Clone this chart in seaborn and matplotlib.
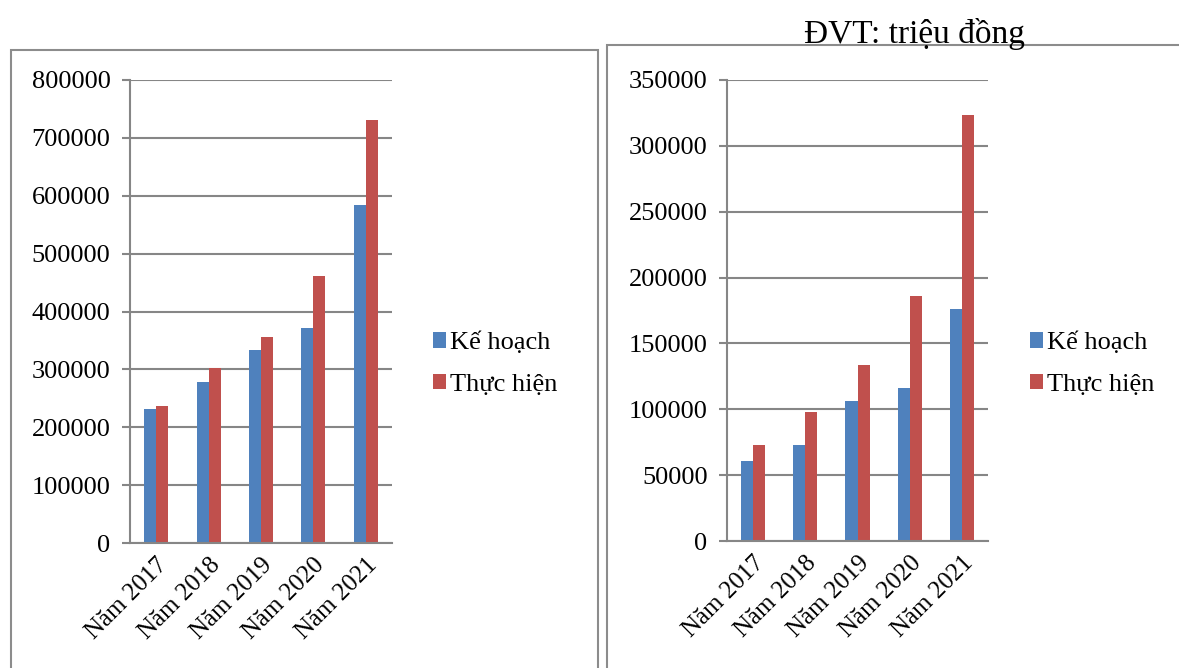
import numpy as np
import pandas as pd
import matplotlib
matplotlib.use('Agg')
import matplotlib.pyplot as plt
import seaborn as sns
from matplotlib.patches import Rectangle, Patch

# data
years = ['Năm 2017', 'Năm 2018', 'Năm 2019', 'Năm 2020', 'Năm 2021']
series = ['Kế hoạch', 'Thực hiện']
left_plan = [231000, 279000, 334000, 371000, 584000]
left_done = [236000, 303000, 356000, 461000, 731000]
right_plan = [61000, 72800, 106000, 116000, 176000]
right_done = [72800, 97700, 134000, 186000, 323500]
left_ticks = [0, 100000, 200000, 300000, 400000, 500000, 600000, 700000, 800000]
right_ticks = [0, 50000, 100000, 150000, 200000, 250000, 300000, 350000]
unit_text = 'ĐVT: triệu đồng'

colors = {'Kế hoạch': '#4F81BD', 'Thực hiện': '#C0504D'}
grid_col = '#868686'

sns.set_style('white')
plt.rcParams['font.family'] = ['Liberation Serif', 'DejaVu Serif']
plt.rcParams['text.color'] = 'black'
plt.rcParams['xtick.labelcolor'] = 'black'
plt.rcParams['ytick.labelcolor'] = 'black'

W, H = 1179, 668
fig = plt.figure(figsize=(W / 100, H / 100), dpi=100)


def make_df(plan, done):
    return pd.DataFrame({
        'year': years * 2,
        'series': [series[0]] * len(years) + [series[1]] * len(years),
        'value': plan + done,
    })


def draw_panel(rect, plan, done, ticks, legend_xy):
    x0, y_top, x1, y_bot = rect
    ax = fig.add_axes([x0 / W, (H - y_bot) / H, (x1 - x0) / W, (y_bot - y_top) / H])
    df = make_df(plan, done)
    sns.barplot(data=df, x='year', y='value', hue='series', palette=colors,
                width=0.46, saturation=1, legend=False, ax=ax, linewidth=0)
    ax.set_xlim(-0.5, len(years) - 0.5)
    ax.set_ylim(ticks[0], ticks[-1])
    ax.set_yticks(ticks)
    ax.set_yticklabels([str(t) for t in ticks], fontsize=19)
    ax.set_xticks(range(len(years)))
    ax.set_xticklabels(years, rotation=45, ha='right', rotation_mode='anchor', fontsize=18)
    ax.set_xticks(np.arange(-0.5, len(years)), minor=True)
    ax.tick_params(axis='x', which='major', length=0, pad=8)
    ax.tick_params(axis='x', which='minor', length=6, width=1.5, color=grid_col, direction='out')
    ax.tick_params(axis='y', length=6, width=1.5, color=grid_col, pad=8, left=True)
    ax.yaxis.grid(True, color=grid_col, linewidth=1.5)
    ax.set_axisbelow(True)
    for s in ['top', 'right']:
        ax.spines[s].set_visible(False)
    for s in ['left', 'bottom']:
        ax.spines[s].set_color(grid_col)
        ax.spines[s].set_linewidth(1.5)
    ax.set_xlabel('')
    ax.set_ylabel('')
    handles = [Patch(facecolor=colors[s], edgecolor='none') for s in series]
    ax.legend(handles, series, loc='center left', frameon=False, fontsize=19,
              bbox_to_anchor=(legend_xy[0] / W, (H - legend_xy[1]) / H),
              bbox_transform=fig.transFigure, handlelength=0.5, handleheight=0.5,
              handletextpad=0.15, labelspacing=0.75, borderpad=0)
    return ax


draw_panel((130, 80, 392, 543), left_plan, left_done, left_ticks, (420, 364))
draw_panel((727, 80, 988, 541), right_plan, right_done, right_ticks, (1017, 364))

# outer frames of the two chart boxes
fig.add_artist(Rectangle((11 / W, -0.05), (598 - 11) / W, (H - 50) / H + 0.05,
                         transform=fig.transFigure, fill=False, edgecolor='#8c8c8c', linewidth=1.5))
fig.add_artist(Rectangle((607 / W, -0.05), 0.5, (H - 45) / H + 0.05,
                         transform=fig.transFigure, fill=False, edgecolor='#8c8c8c', linewidth=1.5))

fig.text(914 / W, (H - 34) / H, unit_text, ha='center', va='center', fontsize=24)

fig.savefig('out.png', dpi=100)
